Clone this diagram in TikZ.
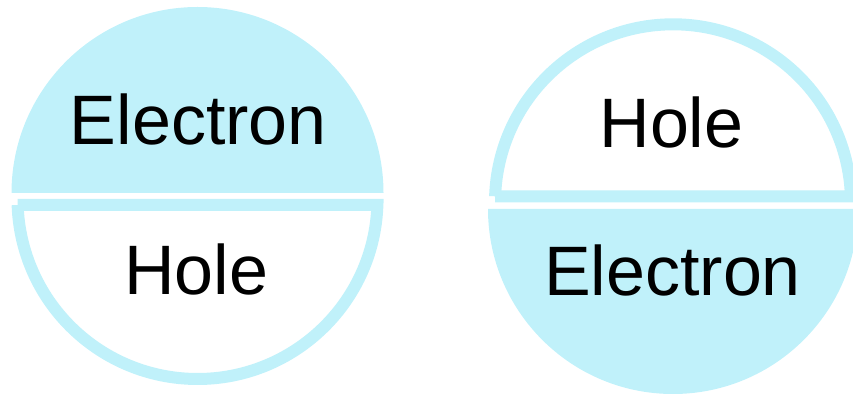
\documentclass[tikz,border=0pt]{standalone}
\usepackage{fontspec}
\setmainfont{Liberation Sans}
\definecolor{carriercyan}{RGB}{192,241,250}

\begin{document}
\begin{tikzpicture}[x=1pt,y=1pt,line width=12pt,line join=miter]
                  \tikzstyle{every node}=[font=\fontsize{70}{84}\selectfont,anchor=base,inner sep=0pt]
                  \tikzstyle{full half}=[fill=carriercyan,draw=none]
                  \tikzstyle{empty half}=[draw=carriercyan,fill=white]

                  \useasboundingbox (0,0) rectangle (853,396);
                  \clip (0,0) rectangle (853,396);

                  % left pair: electron on top, hole below
                  \path[full half]  (11.5,203) arc[start angle=180,end angle=0,radius=186] -- cycle;
                  \path[empty half] (17.6,191) -- (377.4,191) arc[start angle=-1.91,end angle=-178.09,radius=180] -- cycle;

                  % right pair: hole on top, electron below
                  \path[empty half] (495.1,199.7) -- (850.9,199.7) arc[start angle=1.93,end angle=178.07,radius=178] -- cycle;
                  \path[full half]  (488,187) arc[start angle=180,end angle=360,radius=185] -- cycle;

                  \node (leftElectron)  at (198.3,251) {Electron};
                  \node (leftHole)      at (196,101)   {Hole};
                  \node (rightHole)     at (671.5,248) {Hole};
                  \node (rightElectron) at (672.5,100) {Electron};
                \end{tikzpicture}
\end{document}
